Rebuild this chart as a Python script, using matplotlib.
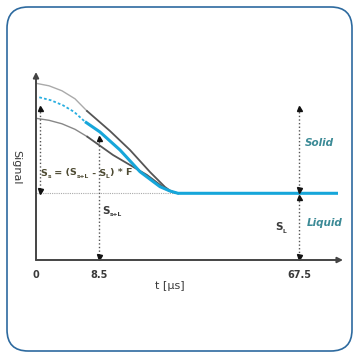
import matplotlib
matplotlib.use("Agg")
import matplotlib.pyplot as plt
from matplotlib.patches import FancyBboxPatch

# ---- data (schematic units, origin at axes corner) ----
upper_gray_x = [0, 13, 26, 39, 51]
upper_gray_y = [176.7, 174.2, 169.2, 161.2, 149]
upper_dark_x = [51, 74, 94, 114, 129, 136, 142]
upper_dark_y = [149, 129, 110, 88, 73, 68, 66.7]
lower_gray_x = [0, 13, 26, 39, 51.3]
lower_gray_y = [141.7, 139.7, 136.2, 130.7, 123.3]
lower_dark_x = [51.3, 77, 111, 131, 142]
lower_dark_y = [123.3, 105, 85, 70, 66.7]
blue_dot_x = [3.3, 15, 27, 38, 49]
blue_dot_y = [162.7, 159.7, 154.7, 148.2, 138.3]
blue_x = [49, 64, 84, 104, 124, 134, 142, 302]
blue_y = [138.3, 128, 110, 88.3, 73.3, 69, 66.7, 66.7]
plateau = 66.7
tick_pos = [0, 63.3, 263]
tick_labels = ["0", "8.5", "67.5"]

fig = plt.figure(figsize=(3.53, 3.54), dpi=100)
W, H = 353, 354
# rounded border
box = FancyBboxPatch((7 / W, 1 - 351 / H), (352 - 7) / W, (351 - 7) / H,
                     boxstyle="round,pad=0,rounding_size=0.06",
                     transform=fig.transFigure, fill=False,
                     edgecolor="#2d6a9f", linewidth=1.2)
fig.patches.append(box)

ax = fig.add_axes([36 / W, (H - 260) / H, (343 - 36) / W, (260 - 72) / H])
ax.set_xlim(0, 307)
ax.set_ylim(0, 188)
ax.axis("off")

axis_col = "#444444"
# axes with arrows
ax.annotate("", xy=(0, 188), xytext=(0, 0),
            arrowprops=dict(arrowstyle="-|>", color=axis_col, lw=1.4,
                            mutation_scale=8, shrinkA=0, shrinkB=0),
            annotation_clip=False)
ax.annotate("", xy=(307, 0), xytext=(0, 0),
            arrowprops=dict(arrowstyle="-|>", color=axis_col, lw=1.4,
                            mutation_scale=8, shrinkA=0, shrinkB=0),
            annotation_clip=False)

# baseline dotted
ax.plot([0, 140], [plateau, plateau], color="#aaaaaa", lw=0.8, ls=(0, (1, 1)))

# curves
ax.plot(upper_gray_x, upper_gray_y, color="#aaaaaa", lw=1.0)
ax.plot(upper_dark_x, upper_dark_y, color="#555555", lw=1.3)
ax.plot(lower_gray_x, lower_gray_y, color="#888888", lw=1.0)
ax.plot(lower_dark_x, lower_dark_y, color="#555555", lw=1.3)
ax.plot(blue_dot_x, blue_dot_y, color="#29aee0", lw=1.3, ls=(0, (1.5, 1.2)))
ax.plot(blue_x, blue_y, color="#16a6da", lw=2.2, solid_capstyle="butt")

# dotted vertical double arrows
def varrow(x, ytop, ybot):
    ax.plot([x, x], [ytop, ybot], color="#555555", lw=1.0, ls=(0, (1, 1.6)))
    ax.plot([x], [ytop], marker="^", color="#111111", ms=3.6, clip_on=False)
    ax.plot([x], [ybot], marker="v", color="#111111", ms=3.6, clip_on=False)

varrow(4, 152, 69)
varrow(63.3, 122, 3)
varrow(263, 152, 70)
varrow(263, 63.5, 3)

txt_col = "#3a3a3a"


def chain(x, y, parts, color, big=7.0, small=4.3, dy=-1.6):
    """parts: list of (string, is_subscript)"""
    prev = None
    for s, sub in parts:
        size = small if sub else big
        off = dy if sub else 0
        if prev is None:
            prev = ax.annotate(s, xy=(x, y), xycoords="data",
                               xytext=(0, off), textcoords="offset points",
                               ha="left", va="baseline", fontsize=size,
                               fontweight="bold", color=color,
                               annotation_clip=False)
        else:
            prev = ax.annotate(s, xy=(1, y), xycoords=(prev, "data"),
                               xytext=(0, off), textcoords="offset points",
                               ha="left", va="baseline", fontsize=size,
                               fontweight="bold", color=color,
                               annotation_clip=False)
    return prev


ax.text(-19.5, 93, "Signal", rotation=270, ha="center", va="center",
        fontsize=8, color=txt_col)
chain(4.5, 84.5, [("S", False), ("s", True), (" = (S", False), ("s+L", True),
                  (" - S", False), ("L", True), (") * F", False)],
      color="#4d4a32", big=6.8)
chain(66, 46, [("S", False), ("s+L", True)], color=txt_col, big=7.5)
chain(239, 29.5, [("S", False), ("L", True)], color=txt_col, big=7.5)
ax.text(269, 117.5, "Solid", ha="left", va="center", fontsize=7.5,
        style="italic", fontweight="bold", color="#3b8a96")
ax.text(270.5, 37.5, "Liquid", ha="left", va="center", fontsize=7.5,
        style="italic", fontweight="bold", color="#3b8a96")
for p, lab in zip(tick_pos, tick_labels):
    ax.text(p, -15, lab, ha="center", va="center", fontsize=7,
            fontweight="bold", color=txt_col)
ax.text(134, -26, "t [µs]", ha="center", va="center", fontsize=8, color=txt_col)

fig.savefig("out.png", dpi=100)
